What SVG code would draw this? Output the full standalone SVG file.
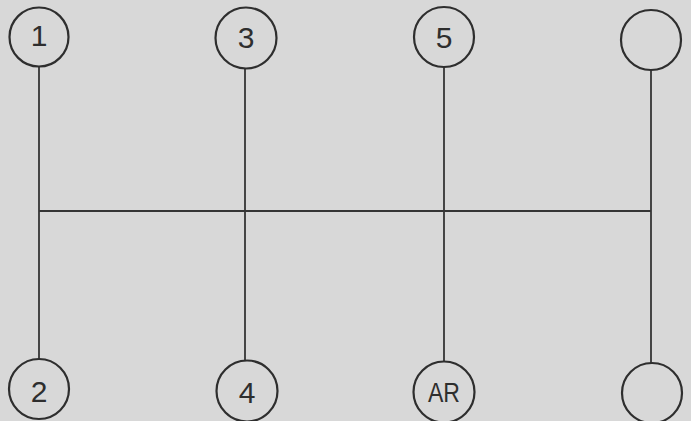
<svg xmlns="http://www.w3.org/2000/svg" width="691" height="421" viewBox="0 0 691 421">
<style>
.n{fill:none;stroke:#2e2e2e;stroke-width:2.2}
.c line{stroke:#353535;stroke-width:1.8;fill:none}
text{font-family:"Liberation Sans Narrow","Liberation Sans",Arial,sans-serif;font-size:30px;fill:#2e2e2e;text-anchor:middle;dominant-baseline:central}
text.s{font-size:28px}
</style>
<rect width="691" height="421" fill="#d8d8d8"/>
<g class="c" id="connectors">
<line x1="39" y1="67" x2="39" y2="360"/>
<line x1="245" y1="68" x2="245" y2="361"/>
<line x1="444" y1="67" x2="444" y2="362"/>
<line x1="651" y1="70" x2="651" y2="363"/>
<line x1="39" y1="211" x2="651" y2="211"/>
</g>
<g id="g1"><circle class="n" cx="39" cy="37" r="29.5"/><text x="39" y="35">1</text></g>
<g id="g3"><circle class="n" cx="246" cy="38" r="30.5"/><text x="246" y="37">3</text></g>
<g id="g5"><circle class="n" cx="444" cy="37" r="30"/><text x="444" y="37">5</text></g>
<g id="gtr"><circle class="n" cx="651" cy="40" r="30"/></g>
<g id="g2"><circle class="n" cx="39" cy="389" r="30"/><text x="39" y="391">2</text></g>
<g id="g4"><circle class="n" cx="247" cy="391" r="30.5"/><text x="247" y="392">4</text></g>
<g id="gAR"><circle class="n" cx="444" cy="392" r="30.5"/><text class="s" x="444" y="392" textLength="32" lengthAdjust="spacingAndGlyphs">AR</text></g>
<g id="gbr"><circle class="n" cx="652" cy="393" r="30"/></g>
</svg>
